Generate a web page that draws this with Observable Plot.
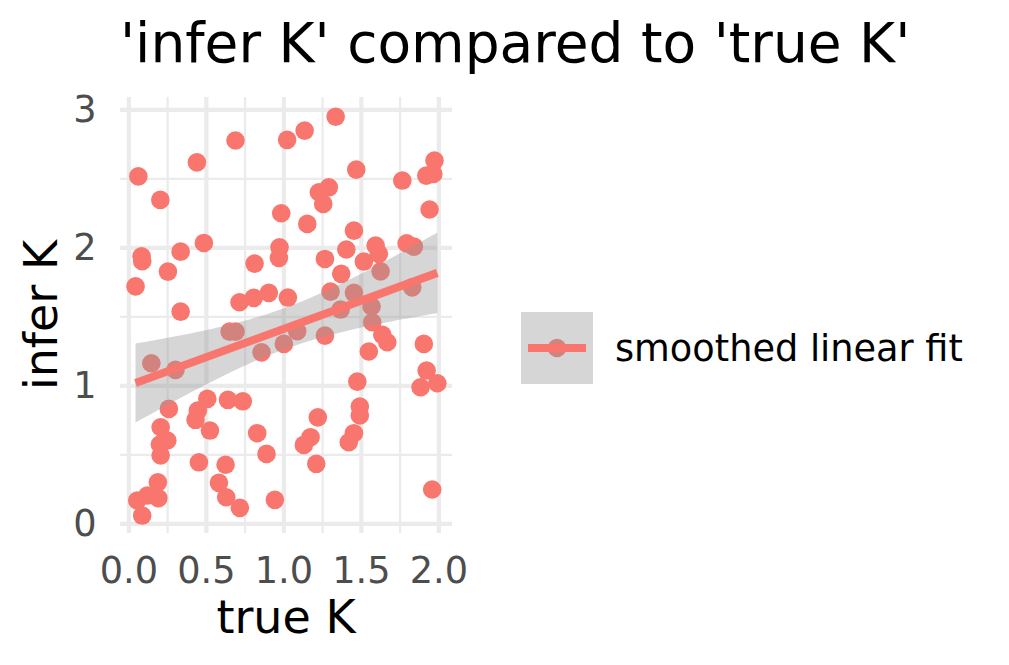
<!DOCTYPE html>
<html><head><meta charset="utf-8">
<script src="https://cdn.jsdelivr.net/npm/d3@7"></script>
<script src="https://cdn.jsdelivr.net/npm/@observablehq/plot@0.6"></script>
<style>body{margin:0;background:#fff} svg{font-family:"DejaVu Sans",sans-serif}</style>
</head><body><div id="chart"></div>
<script>
const trueK = [0.061,0.043,0.082,0.086,0.145,0.203,0.252,0.334,0.334,0.301,0.439,0.484,0.688,0.650,0.688,0.714,0.806,0.811,0.903,0.856,0.983,0.972,0.968,1.000,1.026,1.021,1.086,1.134,1.151,1.226,1.254,1.290,1.265,1.301,1.265,1.334,1.370,1.366,1.403,1.452,1.467,1.452,1.516,1.566,1.570,1.548,1.592,1.613,1.624,1.635,1.667,1.764,1.792,1.839,1.828,1.919,1.964,1.972,1.940,1.903,1.921,1.882,1.990,1.957,0.205,0.200,0.248,0.205,0.258,0.187,0.190,0.119,0.054,0.086,0.506,0.445,0.430,0.523,0.639,0.735,0.828,0.888,0.452,0.624,0.581,0.628,0.716,0.942,1.474,1.490,1.490,1.452,1.419,1.219,1.172,1.129,1.209];
const inferK = [2.518,1.721,1.939,1.903,1.164,2.348,1.828,1.973,1.538,1.116,2.620,2.036,2.778,1.393,1.393,1.606,1.638,1.886,1.674,1.243,2.251,2.004,1.928,1.304,1.640,2.783,1.396,2.850,2.174,2.403,2.319,2.439,1.920,1.683,1.364,2.951,1.812,1.553,1.988,2.125,2.567,1.674,1.901,1.575,1.461,1.249,2.017,1.957,1.830,1.370,1.316,2.488,2.033,2.009,1.714,2.524,2.536,2.633,2.278,1.304,1.111,0.990,1.019,0.249,0.700,0.575,0.604,0.495,0.833,0.301,0.186,0.205,0.169,0.060,0.906,0.821,0.754,0.676,0.899,0.888,0.657,0.507,0.446,0.428,0.297,0.193,0.116,0.174,1.031,0.850,0.785,0.657,0.591,0.772,0.628,0.572,0.435];
const xMajor = [0, 0.5, 1, 1.5, 2];
const xMinor = [0.25, 0.75, 1.25, 1.75];
const yMajor = [0, 1, 2, 3];
const yMinor = [0.5, 1.5, 2.5];
const titleText = "'infer K' compared to 'true K'";
const xTitle = "true K";
const yTitle = "infer K";
const legendLabel = "smoothed linear fit";
const pointColor = "#F8766D";

const data = trueK.map((t, i) => ({t, k: inferK[i]}));

const chart = Plot.plot({
  width: 1009, height: 665,
  marginLeft: 120, marginRight: 557, marginTop: 97, marginBottom: 132,
  style: {fontFamily: "DejaVu Sans", fontSize: "36.7px", color: "#4d4d4d", background: "white"},
  x: {domain: [-0.054, 2.088]},
  y: {domain: [-0.07, 3.09]},
  marks: [
    Plot.ruleX(xMinor, {stroke: "#ebebeb", strokeWidth: 2.2}),
    Plot.ruleY(yMinor, {stroke: "#ebebeb", strokeWidth: 2.2}),
    Plot.ruleX(xMajor, {stroke: "#ebebeb", strokeWidth: 4.2}),
    Plot.ruleY(yMajor, {stroke: "#ebebeb", strokeWidth: 4.2}),
    Plot.axisX({ticks: xMajor, tickSize: 0, tickPadding: 23, tickFormat: d3.format(".1f"), label: null, fontSize: 36.7, fill: "#4d4d4d"}),
    Plot.axisY({ticks: yMajor, tickSize: 0, tickPadding: 24, tickFormat: d3.format("d"), label: null, fontSize: 36.7, fill: "#4d4d4d"}),
    Plot.dot(data, {x: "t", y: "k", r: 9.3, fill: pointColor}),
    Plot.linearRegressionY(data, {x: "t", y: "k", stroke: pointColor, strokeWidth: 8, strokeLinecap: "butt", fill: "#999999", fillOpacity: 0.4, ci: 0.95})
  ]
});

const svg = d3.select(chart);
svg.append("text").attr("x", 120).attr("y", 62).attr("text-anchor", "start").attr("font-size", 55).attr("fill", "black").text(titleText);
svg.append("text").attr("x", 286).attr("y", 633).attr("text-anchor", "middle").attr("font-size", 46).attr("fill", "black").text(xTitle);
svg.append("text").attr("transform", "translate(57,315) rotate(-90)").attr("text-anchor", "middle").attr("font-size", 46).attr("fill", "black").text(yTitle);
const lg = svg.append("g");
lg.append("circle").attr("cx", 557).attr("cy", 348).attr("r", 9.3).attr("fill", pointColor);
lg.append("rect").attr("x", 521).attr("y", 312).attr("width", 72).attr("height", 72).attr("fill", "#999999").attr("fill-opacity", 0.4);
lg.append("line").attr("x1", 528).attr("x2", 586).attr("y1", 348).attr("y2", 348).attr("stroke", pointColor).attr("stroke-width", 8);
lg.append("text").attr("x", 615).attr("y", 361).attr("text-anchor", "start").attr("font-size", 36.7).attr("fill", "black").text(legendLabel);

document.getElementById("chart").appendChild(chart);
</script>
</body></html>
